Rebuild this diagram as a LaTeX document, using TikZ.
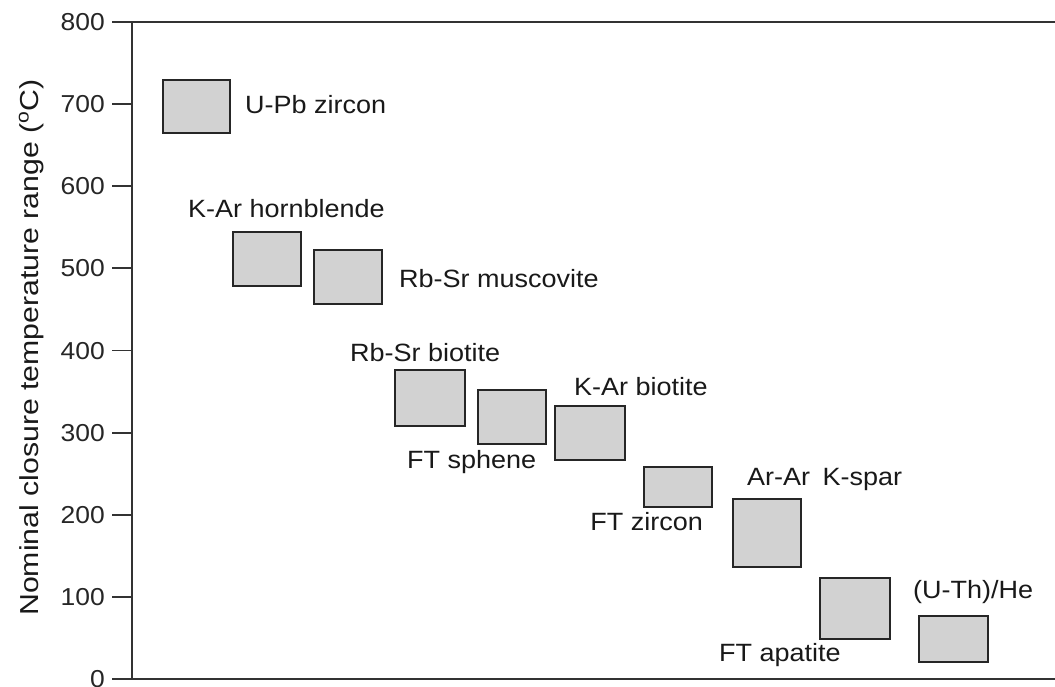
\documentclass[tikz,border=0pt]{standalone}
\usepackage{fontspec}
\setmainfont{Liberation Sans}[FakeStretch=1.08]
\begin{document}
\begin{tikzpicture}[x=1pt,y=-1pt,
  axisline/.style={line width=1.8pt,draw=black!80},
  rng/.style={draw=black!85,line width=1.8pt,fill=gray!35!white,inner sep=0pt},
  lbl/.style={inner sep=0pt,font=\fontsize{25}{29}\selectfont,text=black!90},
  ticklbl/.style={inner sep=0pt,anchor=base east,font=\fontsize{24.5}{28}\selectfont,text=black!85}]
\useasboundingbox (0,0) rectangle (1055,686);
% axes
\coordinate (o) at (132,679);
\coordinate (t) at (132,22);
\coordinate (tr) at (1055,22);
\coordinate (br) at (1055,679);
\draw[axisline] (tr) -- (t) -- (o) -- (br);
% ticks
\foreach \v in {0,100,...,800}{
  \pgfmathsetmacro{\yy}{679-0.82125*\v}
  \coordinate (tk\v) at (112,\yy);
  \draw[axisline] (tk\v) -- (132,\yy);
  \node[ticklbl] (tl\v) at (105,\yy+8.5) {\v};
}
% axis label
\node[lbl,rotate=90,anchor=base west] (ylab) at (38,616) {\scalebox{1.12}[1.04]{Nominal closure temperature range (\textsuperscript{o}C)}};
% ranges
\path (162,79) node[rng,minimum width=67pt,minimum height=53pt,anchor=north west] (b1) {};
\path (232,231) node[rng,minimum width=68pt,minimum height=54pt,anchor=north west] (b2) {};
\path (313,249) node[rng,minimum width=68pt,minimum height=54pt,anchor=north west] (b3) {};
\path (394,369) node[rng,minimum width=70pt,minimum height=56pt,anchor=north west] (b4) {};
\path (477,389) node[rng,minimum width=68pt,minimum height=54pt,anchor=north west] (b5) {};
\path (554,405) node[rng,minimum width=70pt,minimum height=54pt,anchor=north west] (b6) {};
\path (643,466) node[rng,minimum width=68pt,minimum height=40pt,anchor=north west] (b7) {};
\path (732,498) node[rng,minimum width=68pt,minimum height=68pt,anchor=north west] (b8) {};
\path (819,577) node[rng,minimum width=70pt,minimum height=61pt,anchor=north west] (b9) {};
\path (918,615) node[rng,minimum width=69pt,minimum height=46pt,anchor=north west] (b10) {};
% labels
\node[lbl,anchor=base west] (l1) at (245,113) {U-Pb zircon};
\node[lbl,anchor=base west] (l2) at (188,217) {K-Ar hornblende};
\node[lbl,anchor=base west] (l3) at (399,287) {Rb-Sr muscovite};
\node[lbl,anchor=base west] (l4) at (350,361) {Rb-Sr biotite};
\node[lbl,anchor=base west] (l5) at (407,468) {FT sphene};
\node[lbl,anchor=base west] (l6) at (574,395) {K-Ar biotite};
\node[lbl,anchor=base east] (l7) at (703,530) {FT zircon};
\node[lbl,anchor=base west] (l8) at (747,485) {Ar-Ar\hspace{0.5em}K-spar};
\node[lbl,anchor=base west] (l9) at (719,661) {FT apatite};
\node[lbl,anchor=base west] (l10) at (913,598) {(U-Th)/He};
\end{tikzpicture}
\end{document}
